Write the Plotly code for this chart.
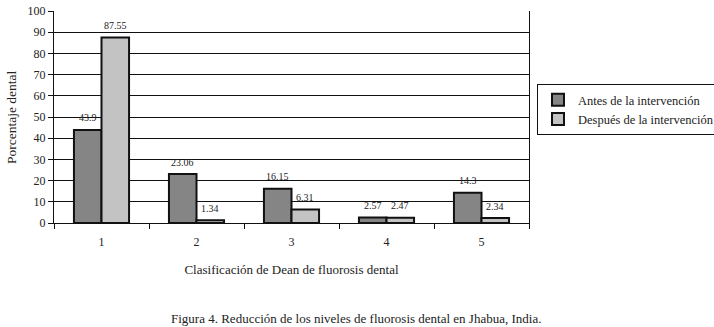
import plotly.graph_objects as go

categories = ["1", "2", "3", "4", "5"]
antes = [43.9, 23.06, 16.15, 2.57, 14.3]
despues = [87.55, 1.34, 6.31, 2.47, 2.34]
antes_labels = ["43.9", "23.06", "16.15", "2.57", "14.3"]
despues_labels = ["87.55", "1.34", "6.31", "2.47", "2.34"]
y_ticks = [0, 10, 20, 30, 40, 50, 60, 70, 80, 90, 100]

FONT = "Liberation Serif"
TXT = "#222222"
W, H = 714, 327

fig = go.Figure()
fig.add_trace(go.Bar(
    x=categories, y=antes, name="Antes de la intervención",
    marker=dict(color="#858585", line=dict(color="#111111", width=2)),
))
fig.add_trace(go.Bar(
    x=categories, y=despues, name="Después de la intervención",
    marker=dict(color="#c3c3c3", line=dict(color="#111111", width=2)),
))

PL, PR, PT, PB = 54, 529, 11, 223
pw, ph = PR - PL, PB - PT
BARGAP = 0.42
cat_px = pw / len(categories)
half_bar = cat_px * (1 - BARGAP) / 4  # centre offset of each bar within its group

annotations = []
for i, (v, lab) in enumerate(zip(antes, antes_labels)):
    annotations.append(dict(x=i, y=v, xref="x", yref="y", text=lab, showarrow=False,
                            xshift=-half_bar, yshift=12, yanchor="middle",
                            font=dict(family=FONT, size=10, color=TXT)))
for i, (v, lab) in enumerate(zip(despues, despues_labels)):
    annotations.append(dict(x=i, y=v, xref="x", yref="y", text=lab, showarrow=False,
                            xshift=half_bar, yshift=12, yanchor="middle",
                            font=dict(family=FONT, size=10, color=TXT)))
annotations.append(dict(
    text="Figura 4. Reducción de los niveles de fluorosis dental en Jhabua, India.",
    x=(356 - PL) / pw, y=-(318 - PB) / ph, xref="paper", yref="paper",
    xanchor="center", yanchor="middle",
    showarrow=False, font=dict(family=FONT, size=13, color=TXT),
))
annotations.append(dict(
    text="Porcentaje dental", textangle=-90,
    x=(11 - PL) / pw, y=0.5, xref="paper", yref="paper",
    xanchor="center", yanchor="middle",
    showarrow=False, font=dict(family=FONT, size=13.5, color=TXT),
))

fig.update_layout(
    width=W, height=H,
    margin=dict(l=PL, r=W - PR, t=PT, b=H - PB, autoexpand=False),
    paper_bgcolor="white", plot_bgcolor="white",
    font=dict(family=FONT, size=12, color=TXT),
    barmode="group", bargap=BARGAP, bargroupgap=0.0,
    showlegend=True,
    legend=dict(
        x=(537 - PL) / pw, y=(PB - 84) / ph, xanchor="left", yanchor="top",
        bordercolor="#111111", borderwidth=1,
        font=dict(family=FONT, size=12.5, color=TXT),
        tracegroupgap=0, itemwidth=30,
    ),
    annotations=annotations,
)

fig.update_yaxes(
    range=[0, 100], tickvals=y_ticks, automargin=False,
    showgrid=True, gridcolor="#111111", gridwidth=1,
    showline=True, linecolor="#111111", linewidth=1, mirror=True,
    ticks="outside", ticklen=5, tickcolor="#111111",
    tickfont=dict(family=FONT, size=12, color=TXT),
    zeroline=False,
)
fig.update_xaxes(
    type="category", range=[-0.5, len(categories) - 0.5],
    showline=True, linecolor="#111111", linewidth=1, automargin=False,
    ticks="outside", ticklen=5, tickcolor="#111111", tickson="boundaries",
    tickfont=dict(family=FONT, size=12, color=TXT),
    ticklabelstandoff=8,
    title=dict(text="Clasificación de Dean de fluorosis dental", font=dict(family=FONT, size=13, color=TXT), standoff=16),
)

fig.write_html("out.html", config={"displayModeBar": False},
               post_script="document.body.style.margin='0';")
